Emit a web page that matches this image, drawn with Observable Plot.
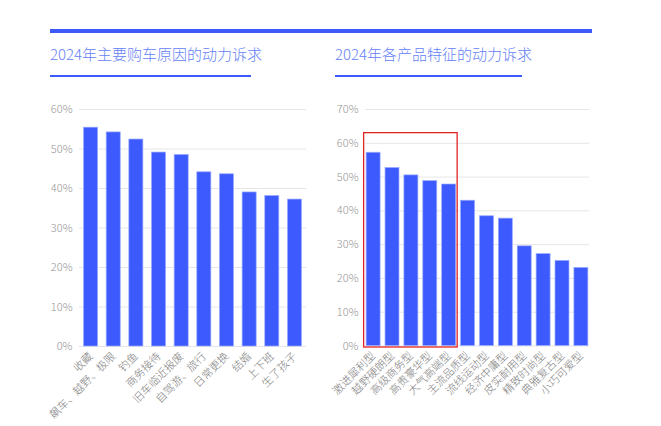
<!DOCTYPE html>
<html>
<head>
<meta charset="utf-8">
<script src="https://cdn.jsdelivr.net/npm/d3@7"></script>
<script src="https://cdn.jsdelivr.net/npm/@observablehq/plot@0.6"></script>
<style>
  body { margin: 0; background: #fff; font-family: "Noto Sans CJK SC", "Noto Sans", sans-serif; }
  #wrap { position: relative; width: 661px; height: 426px; overflow: hidden; }
  .abs { position: absolute; }
  .topbar { left: 50px; top: 29px; width: 542px; height: 4px; background: #3d5afe; }
  .title { font-size: 15px; line-height: 20px; color: #6582f6; font-weight: 300; white-space: nowrap; }
  .uline { height: 2px; background: #3d5afe; top: 75px; }
  svg { overflow: visible; }
  svg text { font-family: "Noto Sans CJK SC", "Noto Sans", sans-serif; font-weight: 300; }
</style>
</head>
<body>
<div id="wrap">
  <div class="abs topbar"></div>
  <div class="abs title" id="t1" style="left:50px; top:44px;"></div>
  <div class="abs uline" style="left:50px; width:201px;"></div>
  <div class="abs title" id="t2" style="left:335px; top:44px;"></div>
  <div class="abs uline" style="left:335px; width:187px;"></div>
  <div class="abs" id="c1" style="left:0; top:0;"></div>
  <div class="abs" id="c2" style="left:310px; top:0;"></div>
</div>
<script>
const title1 = "2024年主要购车原因的动力诉求";
const title2 = "2024年各产品特征的动力诉求";

const reasons = ["收藏", "飙车、越野、极限", "钓鱼", "商务接待", "旧车临近报废", "自驾游、旅行", "日常更换", "结婚", "上下班", "生了孩子"];
const reasonValues = [55.4, 54.2, 52.4, 49.1, 48.5, 44.1, 43.6, 39.0, 38.1, 37.2];
const reasonTicks = [0, 10, 20, 30, 40, 50, 60];

const features = ["激进犀利型", "越野硬朗型", "高级商务型", "高贵豪华型", "大气高端型", "主流品质型", "流线运动型", "经济中庸型", "皮实耐用型", "精致时尚型", "典雅复古型", "小巧可爱型"];
const featureValues = [57.2, 52.7, 50.5, 48.8, 47.8, 43.0, 38.4, 37.7, 29.5, 27.2, 25.2, 23.1];
const featureTicks = [0, 10, 20, 30, 40, 50, 60, 70];

const highlightCats = ["激进犀利型", "大气高端型"];
const highlightTop = [63];

document.getElementById("t1").textContent = title1;
document.getElementById("t2").textContent = title2;

const barFill = "#3d5afe";
const barStroke = "#9aabff";

function makeChart(cats, vals, ticks, opts) {
  const data = cats.map((c, i) => ({cat: c, v: vals[i]}));
  return Plot.plot({
    width: opts.width,
    height: 426,
    marginLeft: opts.ml,
    marginRight: opts.mr,
    marginTop: 109,
    marginBottom: opts.mb,
    style: {fontSize: "11px", background: "transparent", overflow: "visible"},
    x: {domain: cats, paddingInner: opts.pi, paddingOuter: opts.po, round: false, label: null},
    y: {domain: [0, ticks[ticks.length - 1]], ticks: ticks, label: null},
    marks: [
      Plot.gridY(ticks, {stroke: "#e6e6e6", strokeOpacity: 1, strokeWidth: 1}),
      Plot.axisY({ticks: ticks, tickSize: 0, tickPadding: 7, tickFormat: d => d + "%", fill: "#959595", label: null, fontSize: 11}),
      Plot.axisX({tickSize: 0, tickRotate: -45, tickPadding: 8, fill: "#808080", label: null, fontSize: 11}),
      Plot.barY(data, {x: "cat", y: "v", fill: barFill, stroke: barStroke, strokeWidth: 0.7})
    ]
  });
}

const p1 = makeChart(reasons, reasonValues, reasonTicks, {width: 310, ml: 79, mr: 4, mb: 80, pi: 0.38, po: 0.2});
document.getElementById("c1").appendChild(p1);
// left chart plot area ends at 306: width 310 - mr 4

const p2 = makeChart(features, featureValues, featureTicks, {width: 351, ml: 55, mr: 72, mb: 80.5, pi: 0.26, po: 0.06});
document.getElementById("c2").appendChild(p2);

// highlight box using the plot's own scales
const xs = p2.scale("x"), ys = p2.scale("y");
const bw = xs.bandwidth;
const bx0 = xs.apply(highlightCats[0]) - 2.5;
const bx1 = xs.apply(highlightCats[1]) + bw + 1.5;
const by0 = ys.apply(highlightTop[0]);
const by1 = ys.apply(0) + 1.5;
d3.select(p2).append("rect")
  .attr("x", bx0).attr("y", by0)
  .attr("width", bx1 - bx0).attr("height", by1 - by0)
  .attr("fill", "none").attr("stroke", "#e02424").attr("stroke-width", 1.3);
</script>
</body>
</html>
